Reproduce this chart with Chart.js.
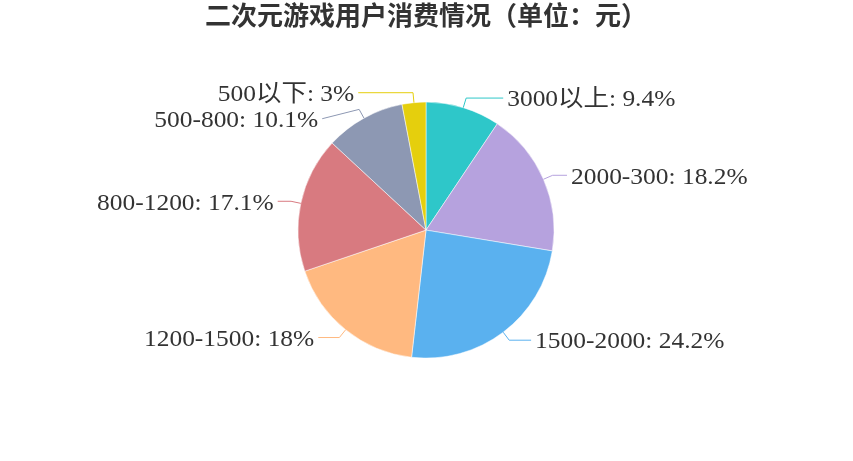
<!DOCTYPE html>
<html>
<head>
<meta charset="utf-8">
<script src="https://cdn.jsdelivr.net/npm/chart.js@4.4.0/dist/chart.umd.min.js"></script>
<style>
  html, body { margin: 0; padding: 0; background: #fff; }
  #wrap { width: 853px; height: 461px; }
</style>
</head>
<body>
<div id="wrap"><canvas id="pie-chart"></canvas></div>
<script>
// data
const categories = ['3000以上', '2000-300', '1500-2000', '1200-1500', '800-1200', '500-800', '500以下'];
const shares = [9.4, 18.2, 24.2, 18, 17.1, 10.1, 3];
const colors = ['#2ec7c9', '#b6a2de', '#5ab1ef', '#ffb980', '#d87a80', '#8d98b3', '#e5cf0d'];
const titleText = '二次元游戏用户消费情况（单位：元）';

// outside labels with leader lines, placed from the arc geometry
const outsideLabels = {
    id: 'outsideLabels',
    afterDatasetsDraw(chart) {
        const ctx = chart.ctx;
        const arcs = chart.getDatasetMeta(0).data;
        const len1 = 10, textRadiusExtra = 17, gap = 4, minGap = 26, stretch = 1.06;

        const items = arcs.map((arc, i) => {
            const p = arc.getProps(['x', 'y', 'startAngle', 'endAngle', 'outerRadius'], true);
            const mid = (p.startAngle + p.endAngle) / 2;
            const dx = Math.cos(mid), dy = Math.sin(mid);
            return {
                i, cx: p.x, cy: p.y, r: p.outerRadius,
                side: dx >= 0 ? 1 : -1,
                edge: [p.x + p.outerRadius * dx, p.y + p.outerRadius * dy],
                elbow: [p.x + (p.outerRadius + len1) * dx, p.y + (p.outerRadius + len1) * dy],
                ly: p.y + (p.outerRadius + len1) * dy
            };
        });

        // push overlapping labels down on each side
        [1, -1].forEach(side => {
            const list = items.filter(it => it.side === side).sort((a, b) => a.ly - b.ly);
            for (let k = 1; k < list.length; k++) {
                if (list[k].ly - list[k - 1].ly < minGap) list[k].ly = list[k - 1].ly + minGap;
            }
        });

        ctx.save();
        ctx.font = '24px "Liberation Serif", "Noto Sans CJK SC", serif';
        ctx.textBaseline = 'middle';
        items.forEach(it => {
            const R = it.r + len1 + textRadiusExtra;
            const off = it.ly - it.cy;
            const tx = it.cx + it.side * Math.sqrt(Math.max(R * R - off * off, 0));

            ctx.strokeStyle = colors[it.i];
            ctx.lineWidth = 1;
            ctx.beginPath();
            ctx.moveTo(it.edge[0], it.edge[1]);
            ctx.lineTo(it.elbow[0], it.elbow[1]);
            ctx.lineTo(tx - it.side * gap, it.ly);
            ctx.stroke();

            ctx.save();
            ctx.translate(tx, it.ly + 2);
            ctx.scale(stretch, 1);
            ctx.fillStyle = '#333';
            ctx.textAlign = it.side > 0 ? 'left' : 'right';
            ctx.fillText(categories[it.i] + ': ' + shares[it.i] + '%', 0, 0);
            ctx.restore();
        });
        ctx.restore();
    }
};

const ctx = document.getElementById('pie-chart').getContext('2d');
new Chart(ctx, {
    type: 'pie',
    data: {
        labels: categories,
        datasets: [{
            data: shares,
            backgroundColor: colors,
            borderColor: '#fff',
            borderWidth: 0.5,
            radius: 128
        }]
    },
    options: {
        responsive: true,
        maintainAspectRatio: false,
        animation: false,
        layout: { padding: { left: 0, right: 1, top: 0, bottom: 41 } },
        plugins: {
            legend: { display: false },
            tooltip: { enabled: false },
            title: {
                display: true,
                text: titleText,
                color: '#333',
                font: { family: '"Noto Sans CJK SC", sans-serif', size: 26, weight: 'bold', lineHeight: 1.2 },
                padding: { top: 0, bottom: 9 }
            }
        }
    },
    plugins: [outsideLabels]
});
</script>
</body>
</html>
